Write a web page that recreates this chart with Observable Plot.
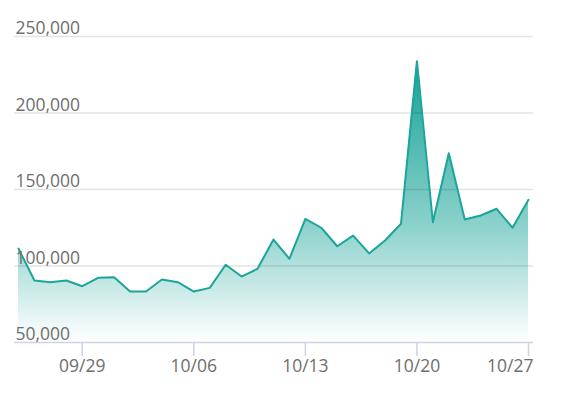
<!DOCTYPE html>
<html><head><meta charset="utf-8">
<script src="https://cdn.jsdelivr.net/npm/d3@7"></script>
<script src="https://cdn.jsdelivr.net/npm/@observablehq/plot@0.6"></script>
<style>body{margin:0;background:#fff}#chart svg{display:block}</style>
</head><body><div id="chart"></div>
<script>
const dates = ["2019-09-25","2019-09-26","2019-09-27","2019-09-28","2019-09-29","2019-09-30",
  "2019-10-01","2019-10-02","2019-10-03","2019-10-04","2019-10-05","2019-10-06","2019-10-07",
  "2019-10-08","2019-10-09","2019-10-10","2019-10-11","2019-10-12","2019-10-13","2019-10-14",
  "2019-10-15","2019-10-16","2019-10-17","2019-10-18","2019-10-19","2019-10-20","2019-10-21",
  "2019-10-22","2019-10-23","2019-10-24","2019-10-25","2019-10-26","2019-10-27"];
const values = [111400,90500,89400,90500,86800,92300,
  92700,83300,83300,91200,89400,83300,85700,
  100800,93100,98200,117300,104700,130800,125000,
  112900,119900,108200,116700,127600,233900,128600,
  173700,130400,133000,137400,125000,143300];
const xTicks = ["2019-09-29","2019-10-06","2019-10-13","2019-10-20","2019-10-27"];
const yTicks = [50000,100000,150000,200000,250000];

const data = dates.map((d, i) => ({date: new Date(d), value: values[i]}));
const tickDates = xTicks.map(d => new Date(d));
const fmt = d3.utcFormat("%m/%d");
const axisColor = "#cdd3e2";
const chart = Plot.plot({
  width: 563, height: 394,
  marginLeft: 14, marginRight: 30, marginTop: 36, marginBottom: 52,
  style: {fontFamily: "'Open Sans', sans-serif", fontSize: "17.5px", color: "#6e6e6e", background: "#fff"},
  x: {type: "utc", label: null, domain: [new Date(dates[0]), new Date(dates[dates.length - 1])], insetLeft: 4, insetRight: 5},
  y: {label: null, domain: [50000, 250000]},
  marks: [
    Plot.areaY(data, {x: "date", y1: 50000, y2: "value", fill: "url(#areaGrad)"}),
    Plot.gridY(yTicks.filter(v => v > 50000), {stroke: "#000", strokeOpacity: 0.11, strokeWidth: 1.5}),
    Plot.lineY(data, {x: "date", y: "value", stroke: "#1ba59b", strokeWidth: 2}),
    Plot.ruleY([50000], {stroke: axisColor, strokeWidth: 1.5}),
    Plot.axisY(yTicks, {anchor: "left", label: null, tickSize: 0, tickPadding: 0, textAnchor: "start", dx: 1, dy: -8,
      tickFormat: d3.format(","), fill: "#6e6e6e"}),
    Plot.axisX(tickDates, {anchor: "bottom", label: null, tickSize: 14, tickPadding: 3,
      tickFormat: (d, i) => i < tickDates.length - 1 ? fmt(d) : "", stroke: axisColor, strokeWidth: 1.5, fill: "#6e6e6e"}),
    Plot.text(tickDates.slice(-1), {x: d => d, frameAnchor: "bottom", dy: 17, lineAnchor: "top",
      textAnchor: "end", dx: 5, text: d => fmt(d), fill: "#6e6e6e"})
  ]
});
const ns = "http://www.w3.org/2000/svg";
const defs = document.createElementNS(ns, "defs");
const grad = document.createElementNS(ns, "linearGradient");
grad.setAttribute("id", "areaGrad");
grad.setAttribute("x1", "0"); grad.setAttribute("y1", "0");
grad.setAttribute("x2", "0"); grad.setAttribute("y2", "1");
[[0, "#14a196", 1], [0.6, "#8fd3cd", 1], [1, "#ffffff", 1]].forEach(([o, c, op]) => {
  const s = document.createElementNS(ns, "stop");
  s.setAttribute("offset", o); s.setAttribute("stop-color", c); s.setAttribute("stop-opacity", op);
  grad.appendChild(s);
});
defs.appendChild(grad);
chart.insertBefore(defs, chart.firstChild);
document.getElementById("chart").appendChild(chart);
</script>
</body></html>
